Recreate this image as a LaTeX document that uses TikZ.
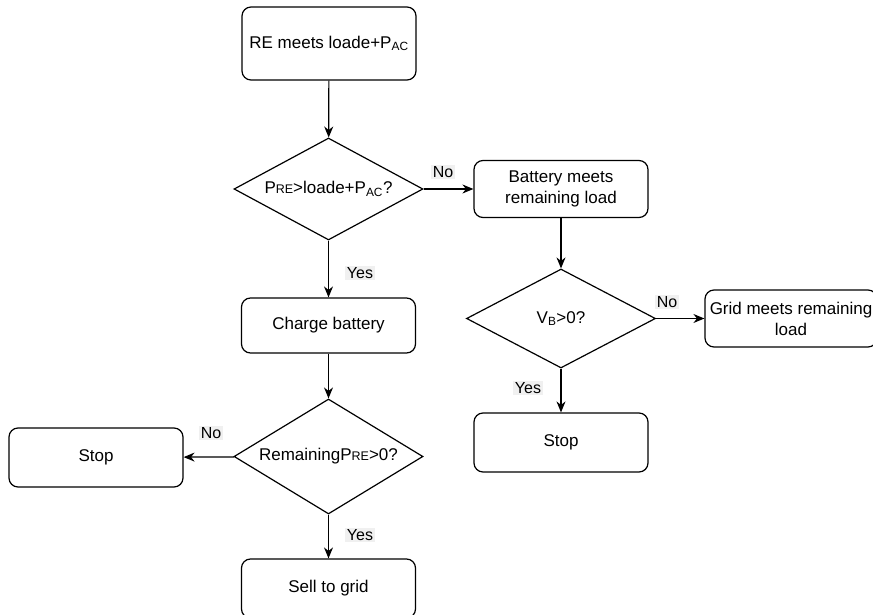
\documentclass[tikz,border=0pt]{standalone}
\usepackage{fontspec}
\setmainfont{Liberation Sans}
\usetikzlibrary{shapes.geometric,arrows.meta}
\newcommand{\smallre}{{\fontsize{12.5}{12.5}\selectfont RE}}
\begin{document}
\begin{tikzpicture}[
    x=1pt, y=-1pt,
    every node/.style = {font=\fontsize{17}{21}\selectfont, align=center},
    procbox/.style = {shape=rectangle, rounded corners=9pt, draw, line width=1.2pt, inner sep=0pt, minimum width=174pt},
    decision/.style = {shape=diamond, shape aspect=2, draw, line width=1.2pt, inner sep=0pt, minimum width=189pt},
    answer/.style = {fill=black!6, inner sep=1.5pt, font=\fontsize{16}{18}\selectfont},
    flow/.style = {-{Stealth[length=11pt,width=9pt]}, line width=1.2pt}
  ]
\useasboundingbox (0,0) rectangle (873,615);
\node[procbox, minimum height=73pt] (remeets) at (329,43.5) {RE meets loade+P\textsubscript{AC}};
\node[decision, minimum height=102pt] (precheck) at (328.5,189) {P\smallre>loade+P\textsubscript{AC}?};
\node[procbox, minimum height=57pt] (batmeets) at (561,189) {Battery meets\\remaining load};
\node[decision, minimum height=99pt] (vbcheck) at (561,318.5) {V\textsubscript{B}>0?};
\node[procbox, minimum width=172pt, minimum height=57pt] (gridmeets) at (791,318.5) {Grid meets remaining\\load};
\node[procbox, minimum height=59pt] (stopright) at (561,442.5) {Stop};
\node[procbox, minimum height=55pt] (charge) at (328.5,325.5) {Charge battery};
\node[decision, minimum height=115pt] (restcheck) at (328.5,456.5) {RemainingP\smallre>0?};
\node[procbox, minimum height=59pt] (stopleft) at (96,457.5) {Stop};
\node[procbox, minimum height=59pt] (sell) at (328.5,588.5) {Sell to grid};

\draw[flow] (remeets) -- (precheck);
\draw[flow] (precheck) -- (batmeets);
\draw[flow] (batmeets) -- (vbcheck);
\draw[flow] (vbcheck) -- (gridmeets);
\draw[flow] (vbcheck) -- (stopright);
\draw[flow] (precheck) -- (charge);
\draw[flow] (charge) -- (restcheck);
\draw[flow] (restcheck) -- (stopleft);
\draw[flow] (restcheck) -- (sell);

\node[answer] (no1) at (443,172) {No};
\node[answer] (yes1) at (360,273) {Yes};
\node[answer] (no2) at (667,302) {No};
\node[answer] (yes2) at (528,388) {Yes};
\node[answer] (no3) at (211,433) {No};
\node[answer] (yes3) at (360,535) {Yes};
\end{tikzpicture}
\end{document}
